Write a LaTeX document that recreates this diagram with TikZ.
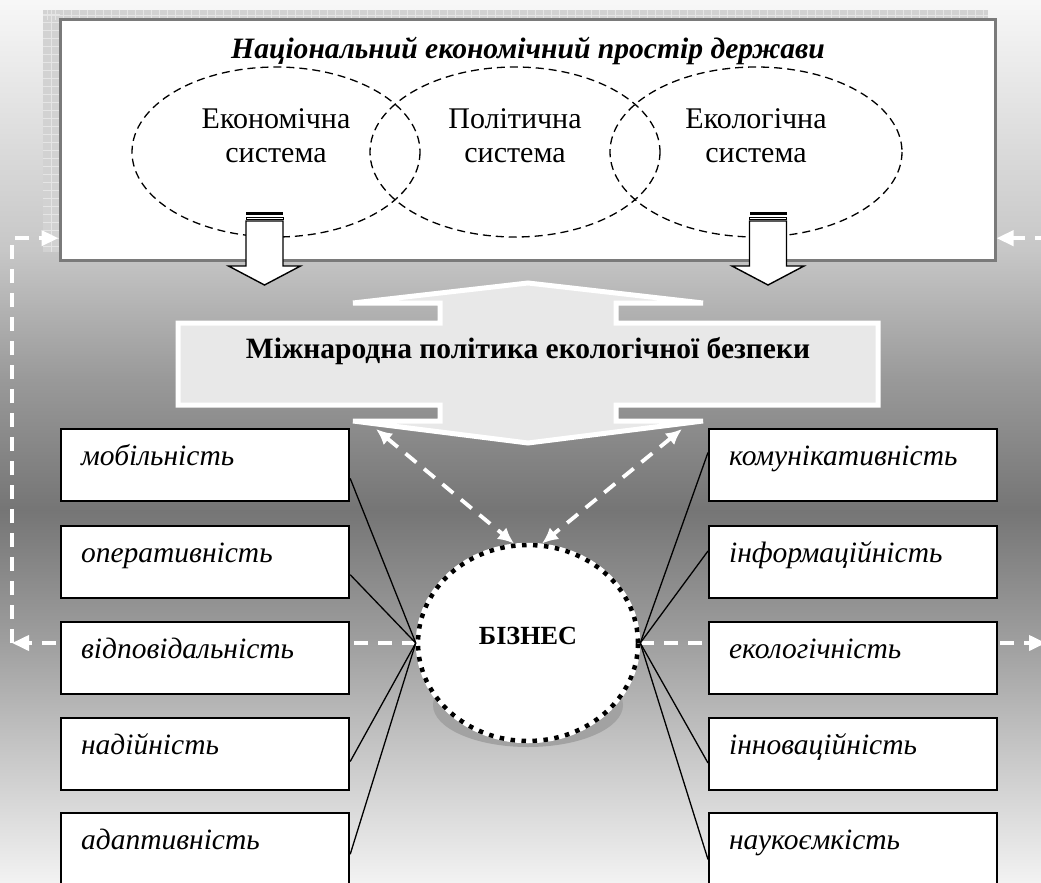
\documentclass[tikz,border=0pt]{standalone}
\usepackage{fontspec}
\setmainfont{Liberation Serif}
\usetikzlibrary{shapes.geometric,arrows.meta,calc}
\pgfdeclareverticalshading{bgshade}{100bp}{
 rgb(0bp)=(0.95,0.95,0.95);
 rgb(25bp)=(0.95,0.95,0.95);
 rgb(31.96bp)=(0.79,0.79,0.79);
 rgb(38.76bp)=(0.62,0.62,0.62);
 rgb(46.12bp)=(0.46,0.46,0.46);
 rgb(53.48bp)=(0.60,0.60,0.60);
 rgb(60.84bp)=(0.78,0.78,0.78);
 rgb(75bp)=(0.97,0.97,0.97);
 rgb(100bp)=(0.97,0.97,0.97)}
\definecolor{boxgray}{HTML}{7A7A7A}
\definecolor{midfill}{HTML}{E8E8E8}
\definecolor{shadowgray}{HTML}{D2D2D2}
\definecolor{bizshadow}{HTML}{A2A2A2}
\tikzset{
  prop/.style={draw=black, line width=2.2pt, fill=white, minimum width=288pt,
    minimum height=72pt, text width=248pt, inner xsep=20pt, inner ysep=0pt, align=left,
    anchor=north west, font=\itshape\fontsize{29.5}{32}\selectfont,
    text height=13pt, text depth=13pt},
  topbox/.style={draw=boxgray, line width=3pt, fill=white, minimum width=935pt,
    minimum height=240pt, inner sep=0pt},
  ell/.style={black, line width=1.3pt, dash pattern=on 8pt off 5pt},
  systext/.style={font=\fontsize{30}{34}\selectfont, align=center, anchor=base},
  conn/.style={black, line width=1.3pt},
  wdash/.style={white, line width=3.8pt, dash pattern=on 14pt off 10pt},
  wtip/.style={-{Triangle[length=17pt,width=15pt]}},
  biz/.style={ellipse, minimum width=220pt, minimum height=196pt, inner sep=0pt,
    fill=white, draw=white, line width=4.5pt,
    postaction={draw=black, line width=4.5pt, dash pattern=on 4.5pt off 6.5pt},
    font=\bfseries\fontsize{26.2}{30}\selectfont},
  darrow/.pic={
    \fill[black] (-18.5,0) rectangle (18.5,3);
    \draw[black,line width=0.9pt,fill=white] (-18.5,5) rectangle (18.5,7.5);
    \draw[black,line width=1.4pt,fill=white,line join=miter]
      (-18.5,9) -- (18.5,9) -- (18.5,54) -- (36,54) -- (0,73) -- (-36,54) -- (-18.5,54) -- cycle;
  },
  gridl/.style={white!80!gray, line width=0.4pt}
}
\begin{document}
\begin{tikzpicture}[x=1pt,y=-1pt]
\useasboundingbox (0,0) rectangle (1041,883);
\clip (0,0) rectangle (1041,883);
\shade[shading=bgshade] (0,0) rectangle (1041,883);
% shadow of the top frame
\fill[shadowgray] (43,10) rectangle (988,252);
\foreach \i in {0,...,117} \draw[gridl] (47+8*\i,10) -- (47+8*\i,20);
\foreach \j in {0,...,29} \draw[gridl] (43,14+8*\j) -- (60,14+8*\j);
\draw[gridl] (43,15) -- (988,15);
\draw[gridl] (51,10) -- (51,252);
% top frame
\node[topbox] (top) at (527.5,140) {};
\node[font=\bfseries\itshape\fontsize{29.6}{32}\selectfont, anchor=base] (title) at (528,59)
  {Національний економічний простір держави};
\draw[ell] (276,152) ellipse [x radius=144, y radius=85];
\draw[ell] (515,152) ellipse [x radius=145, y radius=85];
\draw[ell] (756,152) ellipse [x radius=146, y radius=85];
\node[systext] (eco) at (276,162) {Економічна\\система};
\node[systext] (pol) at (515,162) {Політична\\система};
\node[systext] (ecl) at (756,162) {Екологічна\\система};
\pic at (264.5,212) {darrow};
\pic at (768,212) {darrow};
% central double arrow shape
\draw[white, line width=5pt, fill=midfill, line join=miter]
  (178,323) -- (440,323) -- (440,303) -- (353,303) -- (528,283) -- (703,303) -- (616,303)
  -- (616,323) -- (878,323) -- (878,405) -- (616,405) -- (616,421) -- (703,421)
  -- (528,443) -- (353,421) -- (440,421) -- (440,405) -- (178,405) -- cycle;
\node[font=\bfseries\fontsize{29.5}{32}\selectfont, anchor=base] (mid) at (528,358)
  {Міжнародна політика екологічної безпеки};
\coordinate (ma) at (376,429);
\coordinate (mb) at (682,429);
% business circle
\fill[bizshadow] (528,705) ellipse [x radius=95, y radius=42];
\node[biz] (biz) at (528,643) {\raisebox{14pt}{БІЗНЕС}};
\draw[wdash, {Latex[length=16pt,width=15pt]}-{Latex[length=16pt,width=15pt]}] (ma) -- (biz.98);
\draw[wdash, {Latex[length=16pt,width=15pt]}-{Latex[length=16pt,width=15pt]}] (mb) -- (biz.82);
% white dashed feedback lines
\coordinate (cl) at (12,643);
\coordinate (cr) at (1046,643);
\coordinate (crv) at (1052,643);
\draw[wdash, wtip] (biz.west) -- (cl);
\draw[wdash, wtip] (cl) |- ($(top.south west)!0.096!(top.north west)$);
\draw[wdash, wtip] (biz.east) -- (cr);
\draw[wdash, wtip] (crv) |- ($(top.south east)!0.096!(top.north east)$);
% property boxes
\node[prop] (l1) at (60,428) {мобільність};
\node[prop] (l2) at (60,525) {оперативність};
\node[prop] (l3) at (60,621) {відповідальність};
\node[prop] (l4) at (60,717) {надійність};
\node[prop] (l5) at (60,812) {адаптивність};
\node[prop] (r1) at (708,428) {комунікативність};
\node[prop] (r2) at (708,525) {інформаційність};
\node[prop] (r3) at (708,621) {екологічність};
\node[prop] (r4) at (708,717) {інноваційність};
\node[prop] (r5) at (708,812) {наукоємкість};
% connectors
\draw[conn] ($(l1.north east)!0.68!(l1.south east)$) -- (biz.west);
\draw[conn] ($(l2.north east)!0.67!(l2.south east)$) -- (biz.west);
\draw[conn] ($(l4.north east)!0.60!(l4.south east)$) -- (biz.west);
\draw[conn] ($(l5.north east)!0.57!(l5.south east)$) -- (biz.west);
\draw[conn] ($(r1.north west)!0.33!(r1.south west)$) -- (biz.east);
\draw[conn] ($(r2.north west)!0.35!(r2.south west)$) -- (biz.east);
\draw[conn] ($(r4.north west)!0.62!(r4.south west)$) -- (biz.east);
\draw[conn] ($(r5.north west)!0.64!(r5.south west)$) -- (biz.east);
\end{tikzpicture}
\end{document}
